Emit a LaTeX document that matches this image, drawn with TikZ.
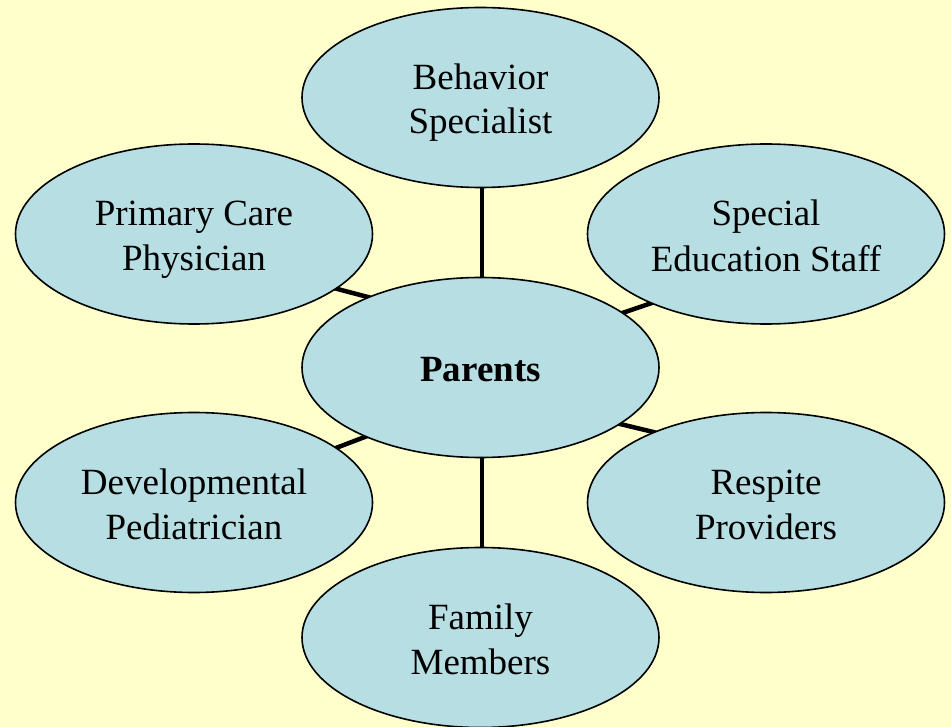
\documentclass[tikz,border=0pt]{standalone}
\usepackage{fontspec}
\setmainfont{Liberation Serif}
\usetikzlibrary{shapes.geometric,backgrounds}
\definecolor{bgcol}{RGB}{255,255,204}
\definecolor{ellcol}{RGB}{183,223,227}
\newcommand\lnstrut{\rule[-7.5pt]{0pt}{44pt}}
\tikzset{
  bubble/.style={ellipse, draw=black, line width=1.6pt, fill=ellcol, minimum width=357pt, minimum height=180pt, inner sep=0pt, align=center, font=\fontsize{37}{44}\selectfont},
  link/.style={line width=4.5pt, draw=black, shorten <=-3pt, shorten >=-3pt}
}
\begin{document}
\begin{tikzpicture}[x=1pt,y=-1pt]
\useasboundingbox (0,0) rectangle (951,727);
\node[bubble] (B) at (480.5,97.5) {\lnstrut Behavior\\\lnstrut Specialist};
\node[bubble] (C) at (194,234) {\lnstrut Primary Care\\\lnstrut Physician};
\node[bubble] (S) at (766,234) {\lnstrut Special\\\lnstrut Education Staff};
\node[bubble] (D) at (194,502.5) {\lnstrut Developmental\\\lnstrut Pediatrician};
\node[bubble] (R) at (766,502.5) {\lnstrut Respite\\\lnstrut Providers};
\node[bubble] (F) at (480.5,637.5) {\lnstrut Family\\\lnstrut Members};
\node[bubble] (P) at (480.5,367.5) {\lnstrut\textbf{Parents}};
\begin{scope}[on background layer]
\fill[bgcol] (0,0) rectangle (951,727);
\draw[link] ([xshift=1.5pt]P.north) -- ([xshift=1.5pt]B.south);
\draw[link] ([xshift=1.5pt]P.south) -- ([xshift=1.5pt]F.north);
\draw[link] (P.148.3) -- (C.-21.3);
\draw[link] (P.21.4) -- (S.211.2);
\draw[link] (P.211.8) -- (D.21.5);
\draw[link] (P.-22) -- (R.148);
\end{scope}
\end{tikzpicture}
\end{document}
